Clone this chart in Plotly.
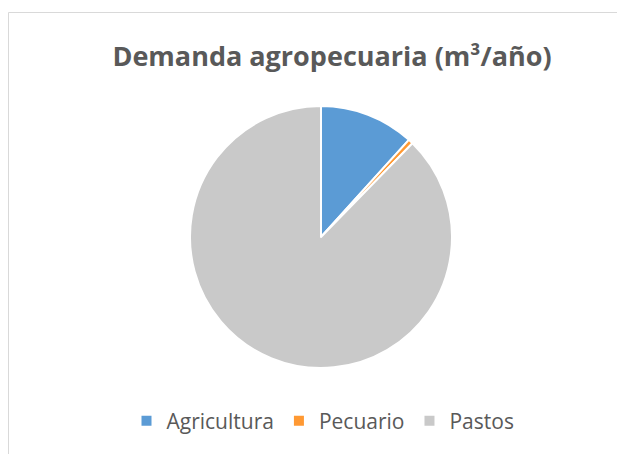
import plotly.graph_objects as go

categories = ["Agricultura", "Pecuario", "Pastos"]
values = [11.7, 0.6, 87.7]
colors = ["#5b9bd5", "#ff9933", "#c9c9c9"]

# page body has an 8px margin; figure coords = screenshot coords - 8
OFF = 8
W, H = 625 - OFF, 454 - OFF
cx, cy, r = 321 - OFF, 237 - OFF, 131

fig = go.Figure(go.Pie(
    labels=categories,
    values=values,
    sort=False,
    direction="clockwise",
    rotation=0,
    textinfo="none",
    marker=dict(colors=colors, line=dict(color="white", width=2)),
    domain=dict(x=[(cx - r)/W, (cx + r)/W], y=[(H - cy - r)/H, (H - cy + r)/H]),
))

fig.update_layout(
    width=W, height=H,
    margin=dict(l=0, r=0, t=0, b=0),
    paper_bgcolor="white",
    plot_bgcolor="white",
    title=dict(
        text="<b>Demanda agropecuaria (m³/año)</b>",
        x=(332 - OFF)/W, y=1-(57 - OFF)/H, xanchor="center", yanchor="middle",
        font=dict(family="Open Sans", size=27, color="#595959"),
    ),
    legend=dict(
        orientation="h", x=(323 - OFF)/W, y=1-(421 - OFF)/H, xanchor="center", yanchor="middle",
        font=dict(family="Open Sans", size=21, color="#595959"),
        itemwidth=30,
    ),
    shapes=[dict(type="rect", xref="paper", yref="paper",
                 x0=0.5/W, x1=1.05, y0=-0.05, y1=1-4.5/H,
                 line=dict(color="#d9d9d9", width=1), fillcolor="rgba(0,0,0,0)")],
)

fig.write_html("out.html")
